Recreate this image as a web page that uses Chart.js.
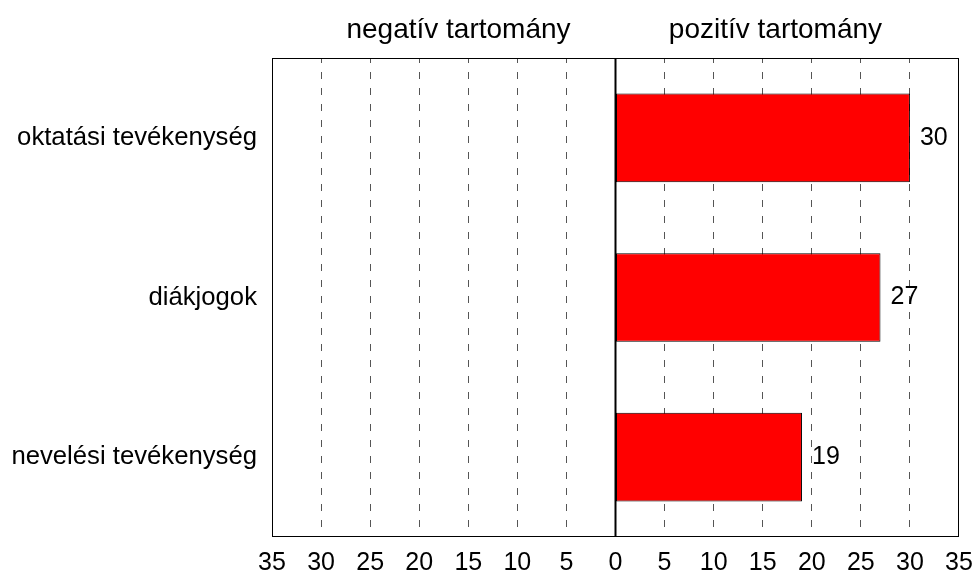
<!DOCTYPE html>
<html>
<head>
<meta charset="utf-8">
<script src="https://cdn.jsdelivr.net/npm/chart.js@4"></script>
<style>
  html, body { margin: 0; padding: 0; background: #ffffff; }
  #wrap { width: 976px; height: 574px; position: relative; }
</style>
</head>
<body>
<div id="wrap"><canvas id="rangeChart"></canvas></div>
<script>
const categories = ["oktatási tevékenység", "diákjogok", "nevelési tevékenység"];
const values = [30, 27, 19];
const rangeTitles = ["negatív tartomány", "pozitív tartomány"];
const axisMin = -35;
const axisMax = 35;
const axisStep = 5;

const fontFamily = "\"Liberation Sans\", Arial, sans-serif";

// frame, zero line, half titles and value labels
const decorations = {
  id: "decorations",
  afterDatasetsDraw(chart) {
    const { ctx, chartArea, scales } = chart;
    const zeroX = scales.x.getPixelForValue(0);
    ctx.save();
    ctx.strokeStyle = "#000000";
    ctx.lineWidth = 1;
    ctx.strokeRect(chartArea.left + 0.5, chartArea.top + 0.5,
      chartArea.right - chartArea.left - 1, chartArea.bottom - chartArea.top - 1);
    ctx.lineWidth = 2;
    ctx.beginPath();
    ctx.moveTo(zeroX, chartArea.top);
    ctx.lineTo(zeroX, chartArea.bottom);
    ctx.stroke();

    ctx.fillStyle = "#000000";
    ctx.textBaseline = "middle";
    ctx.textAlign = "center";
    ctx.font = "28px " + fontFamily;
    ctx.fillText(rangeTitles[0], scales.x.getPixelForValue(-16), 30);
    ctx.fillText(rangeTitles[1], scales.x.getPixelForValue(16.3), 30);

    ctx.font = "25px " + fontFamily;
    ctx.textAlign = "left";
    chart.getDatasetMeta(0).data.forEach((bar, i) => {
      ctx.fillText(String(values[i]), bar.x + 10, bar.y);
    });
    ctx.restore();
  }
};

new Chart(document.getElementById("rangeChart"), {
  type: "bar",
  data: {
    labels: categories,
    datasets: [
      {
        data: values,
        backgroundColor: "#ff0000",
        borderColor: "#000000",
        borderWidth: 1,
        borderSkipped: false,
        barPercentage: 0.555,
        categoryPercentage: 1
      }
    ]
  },
  options: {
    indexAxis: "y",
    responsive: true,
    maintainAspectRatio: false,
    animation: false,
    layout: {
      padding: { top: 58, right: 17, left: 0, bottom: 0 }
    },
    plugins: {
      legend: { display: false },
      tooltip: { enabled: false }
    },
    scales: {
      x: {
        min: axisMin,
        max: axisMax,
        afterFit(scale) {
          scale.height = 37;
          scale.paddingLeft = 0;
          scale.paddingRight = 0;
        },
        afterBuildTicks(scale) {
          const ticks = [];
          for (let v = axisMin; v <= axisMax; v += axisStep) ticks.push({ value: v });
          scale.ticks = ticks;
        },
        border: { display: false, dash: [7, 9], dashOffset: 2 },
        grid: {
          drawTicks: false,
          lineWidth: 1,
          color(context) {
            const v = context.tick ? context.tick.value : 0;
            if (v === 0 || v === axisMin || v === axisMax) return "rgba(0,0,0,0)";
            return "#555555";
          }
        },
        ticks: {
          color: "#000000",
          padding: 11,
          maxRotation: 0,
          autoSkip: false,
          font: { family: fontFamily, size: 25 },
          callback(value) {
            return String(Math.abs(value));
          }
        }
      },
      y: {
        afterFit(scale) {
          scale.width = 272;
        },
        border: { display: false },
        grid: { display: false, drawTicks: false },
        ticks: {
          color: "#000000",
          padding: 15,
          font: { family: fontFamily, size: 25.7 }
        }
      }
    }
  },
  plugins: [decorations]
});
</script>
</body>
</html>
